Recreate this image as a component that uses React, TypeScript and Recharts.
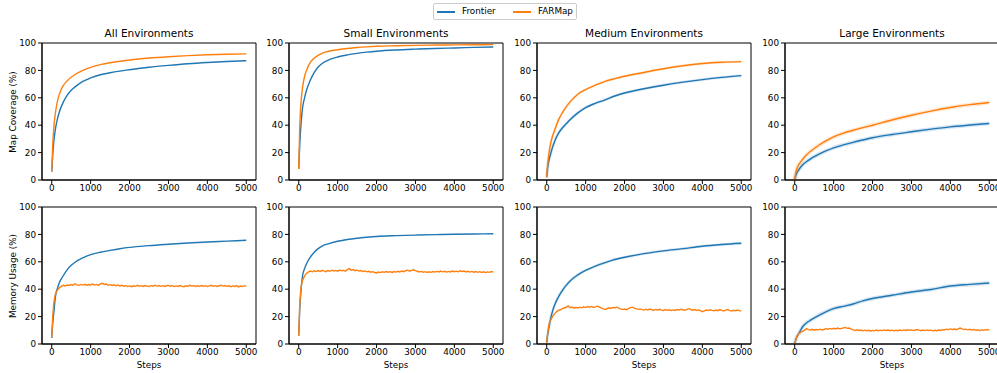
import React from 'react';
import { LineChart, Line, XAxis, YAxis, ReferenceArea, Label } from 'recharts';

const FONT = '"DejaVu Sans", "Liberation Sans", sans-serif';
const BLUE = '#1f77b4';
const ORANGE = '#ff7f0e';

const seriesNames = ['Frontier', 'FARMap'];
const panelTitles = ['All Environments', 'Small Environments', 'Medium Environments', 'Large Environments'];
const rowLabels = ['Map Coverage (%)', 'Memory Usage (%)'];
const xAxisLabel = 'Steps';
const xTicks = [0, 1000, 2000, 3000, 4000, 5000];
const yTicks = [0, 20, 40, 60, 80, 100];

// smooth curves sampled at these steps
const smoothSteps = [0, 25, 50, 100, 150, 200, 300, 400, 500, 600, 800, 1000, 1250, 1500, 1750, 2000, 2500, 3000, 3500, 4000, 4500, 5000];

const frontierAllCov = [6, 18, 27, 38, 45, 50, 57, 62, 65.5, 68, 72, 74.5, 76.8, 78.3, 79.5, 80.5, 82.3, 83.7, 84.9, 85.8, 86.5, 87.1];
const farmapAllCov = [6, 25, 37, 50, 58, 63, 69, 72.5, 75, 77, 80, 82.2, 84.2, 85.6, 86.7, 87.6, 89, 90, 90.8, 91.4, 91.8, 92.1];

const frontierSmallCov = [8, 25, 37, 53, 60, 65.5, 73, 78.5, 82.5, 85, 88, 89.8, 91.3, 92.4, 93.3, 94, 94.9, 95.5, 96, 96.4, 96.8, 97.1];
const farmapSmallCov = [8, 38, 53, 68, 75.5, 80, 86, 89, 91, 92.5, 94.2, 95.1, 96, 96.7, 97.2, 97.6, 98, 98.3, 98.5, 98.6, 98.7, 98.8];

const frontierMedCov = [2, 9, 13.5, 19, 24, 28, 34, 38, 41, 44, 49, 52.9, 56, 58.5, 61.3, 63.5, 66.6, 69.2, 71.4, 73.3, 74.9, 76.2];
const farmapMedCov = [2, 12, 18, 26.7, 32, 36, 43.7, 49, 53.4, 57, 62.6, 66, 69.2, 72, 74, 75.7, 78.5, 81.2, 83.4, 85, 85.9, 86.4];

const frontierLargeCov = [0, 3, 5, 7.3, 9.3, 11, 13.3, 15.3, 17, 18.5, 21.2, 23.5, 25.6, 27.5, 29.2, 30.8, 33.2, 35.2, 37.1, 38.8, 40.1, 41.3];
const farmapLargeCov = [0, 5, 8, 11, 13.2, 15, 18.2, 20.8, 23, 25, 28.5, 31.5, 34.2, 36.3, 38.2, 40, 43.8, 47.3, 50.3, 52.9, 55, 56.6];

const frontierAllMem = [4.5, 15, 22, 35.5, 41, 45, 50, 54.3, 57.4, 59.7, 62.9, 65.2, 67, 68.3, 69.5, 70.5, 71.8, 72.8, 73.7, 74.5, 75.1, 75.7];
const frontierSmallMem = [6, 25, 36, 50, 55, 58.6, 63.5, 67, 69.6, 71.5, 73.5, 75, 76.3, 77.2, 77.9, 78.5, 79.1, 79.5, 79.8, 80.1, 80.3, 80.5];
const frontierMedMem = [1, 7, 11, 18.5, 24, 28.2, 34.3, 39, 42.8, 46, 50.5, 53.8, 56.8, 59.4, 61.7, 63.3, 66, 68, 69.6, 71.4, 72.6, 73.5];
const frontierLargeMem = [0, 3, 5, 7.5, 10, 12.4, 15.3, 17.3, 19, 20.6, 23.5, 25.8, 27.5, 29.2, 31.5, 33.2, 35.6, 38, 39.8, 42.3, 43.5, 44.5];

// noisy memory curves sampled at these steps
const memSteps = [
  0, 25, 50, 75, 100, 150, 200, 250, 300, 350,
  400, 450, 500, 550, 600, 650, 700, 750, 800, 850,
  900, 950, 1000, 1050, 1100, 1150, 1200, 1250, 1300, 1350,
  1400, 1450, 1500, 1550, 1600, 1650, 1700, 1750, 1800, 1850,
  1900, 1950, 2000, 2050, 2100, 2150, 2200, 2250, 2300, 2350,
  2400, 2450, 2500, 2550, 2600, 2650, 2700, 2750, 2800, 2850,
  2900, 2950, 3000, 3050, 3100, 3150, 3200, 3250, 3300, 3350,
  3400, 3450, 3500, 3550, 3600, 3650, 3700, 3750, 3800, 3850,
  3900, 3950, 4000, 4050, 4100, 4150, 4200, 4250, 4300, 4350,
  4400, 4450, 4500, 4550, 4600, 4650, 4700, 4750, 4800, 4850,
  4900, 4950, 5000,
];

const farmapAllMem = [
  4.5, 20, 29, 34, 37, 39.5, 41.2, 42.2, 42.8, 42.4,
  43.1, 42.7, 43.4, 42.9, 44.0, 43.2, 42.8, 43.5, 43.0, 43.6,
  42.9, 43.4, 43.1, 43.7, 43.0, 43.5, 42.8, 43.9, 44.3, 43.4,
  43.8, 42.9, 43.3, 42.7, 43.2, 42.5, 43.0, 42.4, 42.9, 42.2,
  42.6, 41.9, 42.4, 41.8, 42.5, 42.1, 42.8, 42.2, 42.6, 42.0,
  42.7, 42.3, 41.9, 42.6, 42.2, 42.9, 42.3, 42.7, 42.1, 42.6,
  42.0, 42.5, 42.8, 42.2, 42.6, 41.9, 42.4, 42.0, 42.7, 42.1,
  41.8, 42.5, 42.2, 42.8, 42.3, 42.6, 42.0, 42.5, 42.1, 42.7,
  42.2, 42.6, 41.9, 42.4, 42.8, 42.2, 42.6, 42.0, 42.5, 42.9,
  42.3, 42.7, 42.1, 42.5, 41.8, 42.4, 42.0, 42.6, 41.7, 42.3,
  41.9, 42.6, 42.2,
];

const farmapSmallMem = [
  6, 28, 39, 44, 46.5, 49.5, 51.5, 52.6, 53.2, 52.7,
  53.4, 52.9, 53.6, 53.0, 53.8, 53.2, 52.8, 53.6, 53.1, 53.9,
  53.3, 53.7, 53.2, 54.0, 53.4, 53.8, 53.1, 54.3, 55.0, 53.9,
  54.4, 53.5, 53.9, 53.2, 53.6, 52.9, 53.3, 52.7, 53.1, 52.4,
  52.8, 52.2, 51.9, 52.5, 52.1, 52.7, 52.3, 52.9, 52.4, 52.8,
  52.2, 52.9, 52.5, 53.1, 52.6, 53.3, 52.8, 53.5, 53.9, 53.2,
  53.8, 54.2, 53.6, 53.1, 52.6, 53.0, 52.4, 52.8, 52.2, 52.7,
  52.3, 52.9, 52.5, 53.0, 52.6, 53.2, 52.7, 53.1, 52.5, 53.0,
  52.6, 53.3, 52.8, 53.2, 52.7, 53.4, 52.9, 53.3, 52.6, 53.1,
  52.5, 53.0, 52.4, 52.9, 52.3, 52.8, 52.2, 52.7, 52.1, 52.6,
  52.3, 52.9, 52.5,
];

const farmapMedMem = [
  1, 8, 13, 16, 17.5, 20, 22, 23.5, 24.5, 25.0,
  25.8, 26.3, 26.8, 27.8, 26.5, 27.0, 26.2, 26.8, 26.3, 26.9,
  26.4, 27.2, 26.6, 27.3, 26.8, 27.4, 26.7, 27.1, 27.6, 27.0,
  26.4, 25.6, 25.2, 25.8, 26.4, 26.0, 26.7, 26.3, 26.9, 26.2,
  25.6, 25.1, 25.5, 25.0, 25.8, 26.5, 26.9, 26.2, 25.8, 25.3,
  25.6, 25.1, 24.8, 25.4, 24.9, 25.5, 25.0, 24.6, 25.2, 24.8,
  25.3, 24.7, 24.5, 25.1, 24.6, 25.0, 24.4, 24.9, 24.5, 25.2,
  24.8, 25.4, 25.0, 24.6, 25.3, 25.8, 25.2, 24.7, 25.1, 24.5,
  24.9, 24.3, 23.6, 24.2, 24.8, 24.4, 25.0, 24.5, 24.2, 24.8,
  24.3, 25.1, 24.6, 24.1, 24.7, 25.2, 24.5, 24.0, 24.6, 24.2,
  24.8, 24.4, 24.0,
];

const farmapLargeMem = [
  0, 3, 5, 6.5, 7.5, 8.5, 9.3, 10.0, 11.2, 10.5,
  10.2, 10.7, 10.1, 10.6, 10.3, 10.8, 10.2, 10.6, 11.2, 10.8,
  11.4, 10.9, 11.5, 11.0, 11.6, 11.1, 11.3, 11.8, 12.1, 11.4,
  11.7, 10.9, 10.3, 9.8, 10.4, 9.9, 10.2, 9.6, 10.1, 9.7,
  10.0, 9.5, 9.9, 9.6, 10.2, 9.7, 10.1, 9.8, 10.3, 9.9,
  10.2, 9.7, 10.1, 9.6, 10.0, 9.7, 10.2, 9.8, 10.3, 9.9,
  10.4, 10.0, 10.3, 9.8, 10.2, 10.6, 10.1, 9.7, 10.2, 9.8,
  10.3, 9.9, 10.1, 9.6, 10.0, 9.7, 10.2, 9.9, 10.5, 10.2,
  10.8, 10.5, 11.0, 10.6, 10.9, 10.4, 11.1, 11.6, 11.0, 10.5,
  10.8, 10.3, 10.7, 10.2, 10.6, 10.0, 10.4, 9.8, 10.3, 10.0,
  10.5, 10.2, 10.6,
];

type Pt = { x: number; y: number };
const toPts = (xs: number[], ys: number[]): Pt[] => xs.map((x, i) => ({ x, y: ys[i] }));

const PW = 214; // plot width
const PH = 137; // plot height
const YW = 40;
const MT = 6;
const MR = 4;
const colLefts = [42, 289, 537, 785];
const rowTops = [43, 207];

type PanelSpec = {
  frontier: Pt[];
  farmap: Pt[];
  farmapType: 'monotone' | 'linear';
  haloFrontier: number;
  haloFarmap: number;
};

const panels: PanelSpec[][] = [
  [
    { frontier: toPts(smoothSteps, frontierAllCov), farmap: toPts(smoothSteps, farmapAllCov), farmapType: 'monotone', haloFrontier: 0, haloFarmap: 0 },
    { frontier: toPts(smoothSteps, frontierSmallCov), farmap: toPts(smoothSteps, farmapSmallCov), farmapType: 'monotone', haloFrontier: 0, haloFarmap: 0 },
    { frontier: toPts(smoothSteps, frontierMedCov), farmap: toPts(smoothSteps, farmapMedCov), farmapType: 'monotone', haloFrontier: 2.8, haloFarmap: 2.4 },
    { frontier: toPts(smoothSteps, frontierLargeCov), farmap: toPts(smoothSteps, farmapLargeCov), farmapType: 'monotone', haloFrontier: 4, haloFarmap: 4 },
  ],
  [
    { frontier: toPts(smoothSteps, frontierAllMem), farmap: toPts(memSteps, farmapAllMem), farmapType: 'linear', haloFrontier: 0, haloFarmap: 0 },
    { frontier: toPts(smoothSteps, frontierSmallMem), farmap: toPts(memSteps, farmapSmallMem), farmapType: 'linear', haloFrontier: 0, haloFarmap: 0 },
    { frontier: toPts(smoothSteps, frontierMedMem), farmap: toPts(memSteps, farmapMedMem), farmapType: 'linear', haloFrontier: 2.8, haloFarmap: 0 },
    { frontier: toPts(smoothSteps, frontierLargeMem), farmap: toPts(memSteps, farmapLargeMem), farmapType: 'linear', haloFrontier: 4, haloFarmap: 0 },
  ],
];

const tickStyle = { fontSize: 8.8, fill: '#000', fontFamily: FONT };

function Panel({ spec, left, top, bottomRow }: { spec: PanelSpec; left: number; top: number; bottomRow: boolean }) {
  const XH = bottomRow ? 30 : 20;
  return (
    <div style={{ position: 'absolute', left: left - YW, top: top - MT }}>
      <LineChart width={YW + PW + MR} height={MT + PH + XH} margin={{ top: MT, right: MR, bottom: 0, left: 0 }}>
        <XAxis
          type="number"
          dataKey="x"
          domain={[-250, 5250]}
          ticks={xTicks}
          allowDataOverflow
          height={XH}
          tickSize={4}
          tickMargin={1}
          tick={tickStyle}
          axisLine={{ stroke: '#000', strokeWidth: 1 }}
          tickLine={{ stroke: '#000', strokeWidth: 1 }}
        >
          {bottomRow ? <Label value={xAxisLabel} position="insideBottom" offset={6} style={tickStyle} /> : null}
        </XAxis>
        <YAxis
          type="number"
          domain={[0, 100]}
          ticks={yTicks}
          allowDataOverflow
          width={YW}
          tickSize={4}
          tickMargin={2}
          tick={tickStyle}
          axisLine={{ stroke: '#000', strokeWidth: 1 }}
          tickLine={{ stroke: '#000', strokeWidth: 1 }}
        />
        <ReferenceArea x1={-250} x2={5250} y1={0} y2={100} fill="none" stroke="#000" strokeWidth={1} ifOverflow="visible" />
        {spec.haloFrontier > 0 ? (
          <Line data={spec.frontier} dataKey="y" type="monotone" stroke={BLUE} strokeOpacity={0.18} strokeWidth={spec.haloFrontier} dot={false} isAnimationActive={false} legendType="none" />
        ) : null}
        <Line data={spec.frontier} dataKey="y" name={seriesNames[0]} type="monotone" stroke={BLUE} strokeWidth={1.4} dot={false} isAnimationActive={false} />
        {spec.haloFarmap > 0 ? (
          <Line data={spec.farmap} dataKey="y" type={spec.farmapType} stroke={ORANGE} strokeOpacity={0.18} strokeWidth={spec.haloFarmap} dot={false} isAnimationActive={false} legendType="none" />
        ) : null}
        <Line data={spec.farmap} dataKey="y" name={seriesNames[1]} type={spec.farmapType} stroke={ORANGE} strokeWidth={1.4} dot={false} isAnimationActive={false} />
      </LineChart>
    </div>
  );
}

export default function App() {
  return (
    <div style={{ position: 'absolute', left: 0, top: 0, width: 997, height: 373, overflow: 'hidden', background: '#fff', fontFamily: FONT }}>
      {/* Legend */}
      <div style={{ position: 'absolute', left: 433, top: 3, width: 142, height: 15, border: '1px solid #cccccc', borderRadius: 2, background: '#fff' }}>
        <div style={{ position: 'absolute', left: 3, top: 7, width: 18, height: 1.5, background: BLUE }} />
        <div style={{ position: 'absolute', left: 28, top: 0, height: 15, lineHeight: '15px', fontSize: 8.8, color: '#000', whiteSpace: 'nowrap' }}>{seriesNames[0]}</div>
        <div style={{ position: 'absolute', left: 79, top: 7, width: 18, height: 1.5, background: ORANGE }} />
        <div style={{ position: 'absolute', left: 104, top: 0, height: 15, lineHeight: '15px', fontSize: 8.8, color: '#000', whiteSpace: 'nowrap' }}>{seriesNames[1]}</div>
      </div>

      {/* Titles */}
      {panelTitles.map((t, c) => (
        <div key={t} style={{ position: 'absolute', left: colLefts[c], top: 27, width: PW, height: 13, lineHeight: '13px', textAlign: 'center', fontSize: 10.5, color: '#000', whiteSpace: 'nowrap' }}>
          {t}
        </div>
      ))}

      {/* Row y-labels */}
      {rowLabels.map((t, r) => (
        <div
          key={t}
          style={{
            position: 'absolute',
            left: 13 - 60,
            top: rowTops[r] + PH / 2 - 6,
            width: 120,
            height: 12,
            lineHeight: '12px',
            textAlign: 'center',
            fontSize: 8.8,
            color: '#000',
            whiteSpace: 'nowrap',
            transform: 'rotate(-90deg)',
          }}
        >
          {t}
        </div>
      ))}

      {panels.map((row, r) =>
        row.map((spec, c) => (
          <Panel key={`${r}-${c}`} spec={spec} left={colLefts[c]} top={rowTops[r]} bottomRow={r === 1} />
        ))
      )}
    </div>
  );
}
